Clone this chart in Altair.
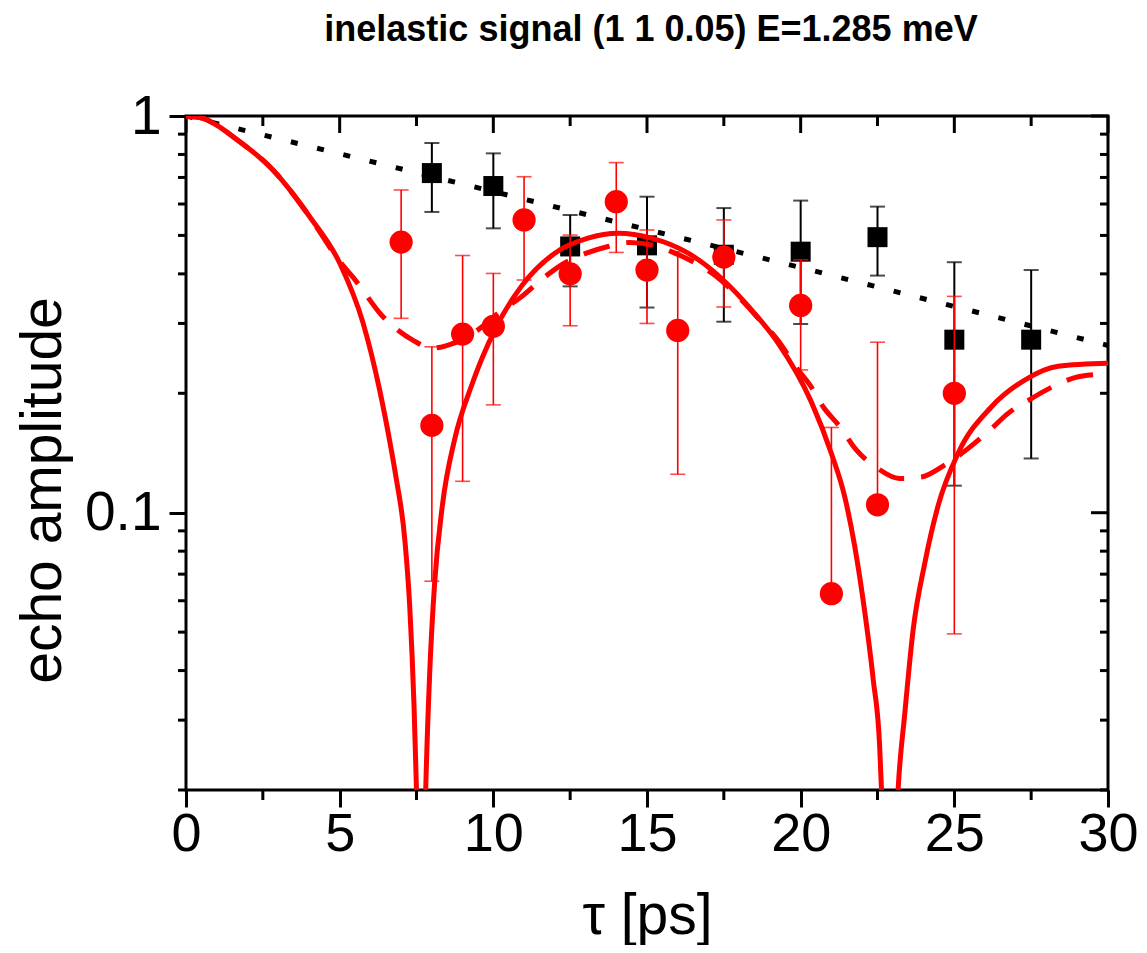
import altair as alt
import pandas as pd

TITLE = "inelastic signal (1 1 0.05) E=1.285 meV"
X_TITLE = "τ [ps]"
Y_TITLE = "echo amplitude"

# black squares (elastic reference) with error bars
black_x = [8, 10, 12.5, 15, 17.5, 20, 22.5, 25, 27.5]
black_y = [0.718, 0.666, 0.469, 0.472, 0.447, 0.455, 0.495, 0.273, 0.273]
black_hi = [0.855, 0.805, 0.563, 0.626, 0.586, 0.612, 0.591, 0.428, 0.409]
black_lo = [0.573, 0.521, 0.372, 0.329, 0.303, 0.299, 0.396, 0.117, 0.137]

# red circles (inelastic signal) with error bars (None = no lower bar)
red_x = [7, 8, 9, 10, 11, 12.5, 14, 15, 16, 17.5, 20, 21, 22.5, 25]
red_y = [0.481, 0.166, 0.282, 0.295, 0.547, 0.400, 0.608, 0.409, 0.288, 0.441, 0.333, 0.0625, 0.1047, 0.200]
red_hi = [0.651, 0.262, 0.445, 0.401, 0.703, 0.501, 0.763, 0.516, 0.455, 0.547, 0.434, 0.164, 0.269, 0.351]
red_lo = [0.309, 0.0672, 0.120, 0.187, 0.386, 0.296, 0.453, 0.300, 0.125, 0.330, 0.229, None, None, 0.0495]

# solid red model curve
solid_x = [0, 0.55, 0.99, 1.53, 2.83, 4.02, 5.0, 5.76, 6.30, 6.68, 6.84, 7.12, 7.28, 7.42, 7.50, 7.65, 7.80, 7.93,
           8.09, 8.34, 8.74, 9.28, 10.05, 10.91, 12.0, 13.08, 14.06, 15.14, 16.34, 17.42, 18.5,
           19.26, 20.35, 21.0, 21.43, 21.76, 22.09, 22.36, 22.57, 22.63, 22.88, 23.17,
           23.39, 23.66, 24.04, 24.47, 25.12, 26.21, 27.29, 28.38, 30]
solid_y = [1.0, 0.987, 0.949, 0.887, 0.731, 0.558, 0.426, 0.301, 0.204, 0.144, 0.122, 0.0855, 0.058, 0.0325, 0.02, 0.005, 0.02, 0.0395,
           0.0665, 0.104, 0.153, 0.208, 0.289, 0.372, 0.451, 0.492, 0.506, 0.492, 0.451, 0.390, 0.318,
           0.268, 0.190, 0.141, 0.110, 0.0822, 0.0559, 0.038, 0.0258, 0.02, 0.005, 0.02,
           0.0313, 0.0507, 0.0747, 0.104, 0.141, 0.185, 0.216, 0.234, 0.238]

# dashed red model curve
dashed_x = [0, 0.55, 0.99, 1.53, 2.83, 4.02, 5.0, 5.54, 6.36, 7.39, 8.0, 8.74, 9.5, 10.15, 10.91, 11.62, 12.32,
            13.03, 13.73, 14.44, 15.14, 15.79, 16.55, 17.26, 17.96, 18.67, 19.21, 19.92, 20.3,
            20.73, 21.27, 21.81, 22.47, 23.22, 23.93, 24.63, 25.39, 26.1, 26.75, 27.51, 28.21,
            28.92, 29.62, 30]
dashed_y = [1.0, 0.987, 0.949, 0.887, 0.731, 0.558, 0.43, 0.383, 0.315, 0.272, 0.260, 0.268, 0.289, 0.318, 0.350, 0.390, 0.426,
            0.451, 0.469, 0.480, 0.473, 0.455, 0.427, 0.394, 0.351, 0.306, 0.275, 0.229, 0.21,
            0.185, 0.165, 0.144, 0.130, 0.122, 0.123, 0.131, 0.144, 0.160, 0.178, 0.194, 0.208,
            0.219, 0.223, 0.224]

# dotted black envelope
dotted_x = [0, 10, 20, 30]
dotted_y = [1.0, 0.645, 0.415, 0.264]

# axis ticks
x_major = [0, 5, 10, 15, 20, 25, 30]
x_minor = [2.5, 7.5, 12.5, 17.5, 22.5, 27.5]
y_major = [0.1, 1]
y_minor = [0.02, 0.03, 0.04, 0.05, 0.06, 0.07, 0.08, 0.09, 0.2, 0.3, 0.4, 0.5, 0.6, 0.7, 0.8, 0.9]

W, H = 922, 674
FONT = "Liberation Sans, Arial, sans-serif"
RED = "#ff0000"

black = pd.DataFrame({"x": black_x, "y": black_y, "lo": black_lo, "hi": black_hi})
red = pd.DataFrame({"x": red_x, "y": red_y,
                    "lo": [l if l is not None else v for l, v in zip(red_lo, red_y)],
                    "hi": red_hi})
black_caps = pd.DataFrame({"x": black_x + black_x, "y": black_lo + black_hi})
rc_x, rc_y = [], []
for xv, l, h in zip(red_x, red_lo, red_hi):
    rc_x.append(xv); rc_y.append(h)
    if l is not None:
        rc_x.append(xv); rc_y.append(l)
red_caps = pd.DataFrame({"x": rc_x, "y": rc_y})

solid = pd.DataFrame({"x": solid_x, "y": solid_y})
dashed = pd.DataFrame({"x": dashed_x, "y": dashed_y})
dotted = pd.DataFrame({"x": dotted_x, "y": dotted_y})

xs = alt.Scale(domain=[0, 30], nice=False, zero=False)
ys = alt.Scale(type="log", domain=[0.02, 1], nice=False)

x_axis = alt.Axis(values=x_major, format="d", grid=False, domain=False,
                  ticks=True, tickSize=17, tickWidth=3, tickColor="black",
                  labelFont=FONT, labelFontSize=54, labelColor="black", labelPadding=0,
                  labelFlush=False, labelOverlap=False,
                  title=X_TITLE, titleFont=FONT, titleFontSize=57, titleFontWeight="normal",
                  titleColor="black", titleX=W / 2, titleY=143, titleBaseline="alphabetic",
                  titleAnchor="middle")
y_axis = alt.Axis(values=y_major, format="~g", grid=False, domain=False,
                  ticks=True, tickSize=17, tickWidth=3, tickColor="black",
                  labelFont=FONT, labelFontSize=55, labelColor="black", labelPadding=8,
                  labelFlush=False, labelOverlap=False,
                  title=Y_TITLE, titleFont=FONT, titleFontSize=57, titleFontWeight="normal",
                  titleColor="black", titleAngle=270, titleX=-126, titleY=374,
                  titleBaseline="alphabetic", titleAlign="center")

X = alt.X("x:Q", scale=xs, axis=x_axis)
Y = alt.Y("y:Q", scale=ys, axis=y_axis)
YLO = alt.Y("lo:Q", scale=ys, axis=y_axis)

solid_line = alt.Chart(solid).mark_line(clip=True, color=RED, strokeWidth=5,
                                        interpolate="monotone").encode(x=X, y=Y)
dashed_line = alt.Chart(dashed).mark_line(clip=True, color=RED, strokeWidth=5,
                                          strokeDash=[27, 17], interpolate="monotone").encode(x=X, y=Y)
dotted_line = alt.Chart(dotted).mark_line(clip=True, color="black", strokeWidth=5,
                                          strokeDash=[7, 20]).encode(x=X, y=Y)

black_err = alt.Chart(black).mark_rule(color="black", strokeWidth=2).encode(x=X, y=YLO, y2="hi:Q")
black_cap = alt.Chart(black_caps).mark_tick(color="black", orient="horizontal",
                                            size=15, thickness=2).encode(x=X, y=Y)
black_pts = alt.Chart(black).mark_square(color="black", size=400, opacity=1).encode(x=X, y=Y)

red_err = alt.Chart(red).mark_rule(color=RED, strokeWidth=1.6).encode(x=X, y=YLO, y2="hi:Q")
red_cap = alt.Chart(red_caps).mark_tick(color=RED, orient="horizontal",
                                        size=15, thickness=1.6).encode(x=X, y=Y)
red_pts = alt.Chart(red).mark_circle(color=RED, size=540, opacity=1).encode(x=X, y=Y)

# tick marks: minor outward on bottom/left, all inward on top/right
xmaj = pd.DataFrame({"x": x_major})
xmin = pd.DataFrame({"x": x_minor})
ymaj = pd.DataFrame({"y": y_major})
ymin = pd.DataFrame({"y": y_minor})
tk = dict(color="black", strokeWidth=3)
bottom_minor = alt.Chart(xmin).mark_rule(**tk).encode(x=X, y=alt.value(H), y2=alt.value(H + 10))
top_major = alt.Chart(xmaj).mark_rule(**tk).encode(x=X, y=alt.value(0), y2=alt.value(17))
top_minor = alt.Chart(xmin).mark_rule(**tk).encode(x=X, y=alt.value(0), y2=alt.value(10))
left_minor = alt.Chart(ymin).mark_rule(**tk).encode(y=Y, x=alt.value(-8), x2=alt.value(0))
right_major = alt.Chart(ymaj).mark_rule(**tk).encode(y=Y, x=alt.value(W - 17), x2=alt.value(W))
right_minor = alt.Chart(ymin).mark_rule(**tk).encode(y=Y, x=alt.value(W - 8), x2=alt.value(W))

chart = alt.layer(
    bottom_minor, top_major, top_minor, left_minor, right_major, right_minor,
    black_err, black_cap, black_pts,
    red_err, red_cap, red_pts,
    dotted_line, dashed_line, solid_line,
).properties(
    width=W, height=H,
    title=alt.Title(TITLE, font=FONT, fontSize=36, fontWeight="bold", color="black",
                    anchor="middle", offset=40, dx=4),
    padding={"left": 178, "top": 108, "right": 31, "bottom": 155},
    autosize=alt.AutoSizeParams(type="none"),
    background="white",
).configure_view(stroke="black", strokeWidth=3)

chart.save("out.html", embed_options={"renderer": "svg", "actions": False})
